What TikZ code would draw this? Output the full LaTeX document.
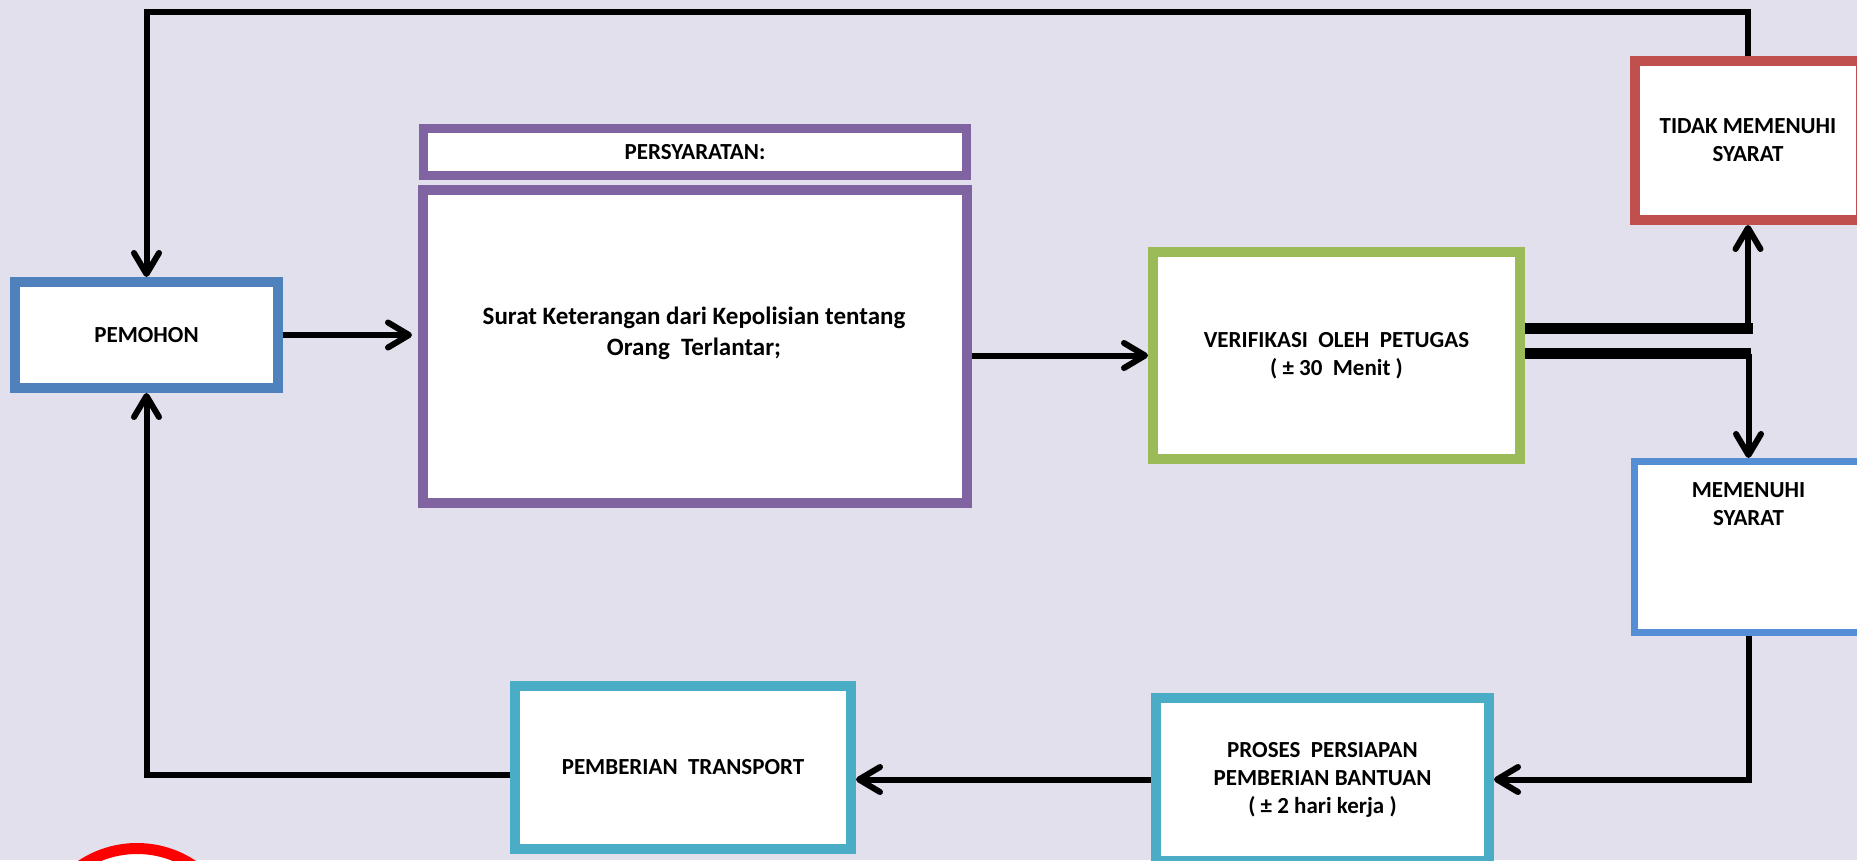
\documentclass[tikz,border=0pt]{standalone}
\usepackage{fontspec}
\setmainfont{Carlito}
\usetikzlibrary{arrows.meta}
\definecolor{bg}{RGB}{226,224,236}
\definecolor{cblue}{HTML}{4F81BD}
\definecolor{cpurple}{HTML}{8064A2}
\definecolor{cgreen}{HTML}{9BBB59}
\definecolor{cred}{HTML}{C0504D}
\definecolor{clblue}{HTML}{558ED5}
\definecolor{ccyan}{HTML}{4BACC6}
\definecolor{ringred}{RGB}{255,0,0}

\begin{document}
\begin{tikzpicture}[x=1pt,y=-1pt,
  box/.style={draw, fill=white, line width=10pt, rectangle, inner sep=0pt,
    align=center, font=\bfseries\fontsize{23}{28}\selectfont},
  txt/.style={align=center, inner sep=0pt, font=\bfseries\fontsize{23}{28}\selectfont},
  conn/.style={line width=6pt, draw=black,
    -{Straight Barb[length=21pt,width=25pt,round]}},
  bar/.style={line width=11pt, draw=black}
]
% canvas
\useasboundingbox (0,0) rectangle (1857,860);
\fill[bg] (0,0) rectangle (1857,860);

% boxes
\node[box, draw=cblue, minimum width=263pt, minimum height=106pt] (pemohon) at (146.5,335) {PEMOHON};
\node[box, draw=cpurple, line width=9pt, minimum width=543pt, minimum height=47pt] (head) at (695,152) {PERSYARATAN:};
\node[box, draw=cpurple, minimum width=544pt, minimum height=313pt] (syarat) at (695,346.5) {};
\node[txt, font=\bfseries\fontsize{25}{31}\selectfont] (syarattext) at (694,333.5)
  {Surat Keterangan dari Kepolisian tentang\\Orang\ \ Terlantar;};
\node[box, draw=cgreen, minimum width=367pt, minimum height=207pt] (verif) at (1336.5,355.5)
  {VERIFIKASI\ \ OLEH\ \ PETUGAS\\( ± 30\ \ Menit )};
\node[box, draw=cred, minimum width=226pt, minimum height=159pt] (tidak) at (1748,140.5)
  {TIDAK MEMENUHI\\SYARAT};
\node[box, draw=clblue, line width=7pt, minimum width=228pt, minimum height=171pt] (memenuhi) at (1748.5,547) {};
\node[txt] (memenuhitext) at (1748.5,504) {MEMENUHI\\SYARAT};
\node[box, draw=ccyan, minimum width=333pt, minimum height=163pt] (proses) at (1322.5,779.5)
  {PROSES\ \ PERSIAPAN\\PEMBERIAN BANTUAN\\( ± 2 hari kerja )};
\node[box, draw=ccyan, minimum width=336pt, minimum height=163pt] (transport) at (683,767.5)
  {PEMBERIAN\ \ TRANSPORT};
\node[circle, draw=ringred, fill=white, line width=11pt, minimum size=201pt] (ring) at (137,949) {};

% connectors
\coordinate (topy) at (0,12);
\coordinate (ju) at (1753,328);
\coordinate (jl) at (1751,353.5);
\draw[conn] (tidak.north) -- (tidak.north |- topy) -- (pemohon.north |- topy) -- (pemohon.north);
\draw[conn] (pemohon.east) -- ([xshift=-6pt]syarat.west |- pemohon.east);
\draw[conn] (syarat.east |- verif.west) -- (verif.west);
\draw[bar] (verif.east |- ju) -- (ju);
\draw[bar] (verif.east |- jl) -- (jl);
\draw[conn] (tidak.south |- ju) -- (tidak.south);
\draw[conn] (memenuhi.north |- jl) -- (memenuhi.north);
\draw[conn] (memenuhi.south) |- (proses.east);
\draw[conn] (proses.west) -- (transport.east |- proses.west);
\draw[conn] ([yshift=-7pt]transport.west) -| (pemohon.south);
\end{tikzpicture}
\end{document}
